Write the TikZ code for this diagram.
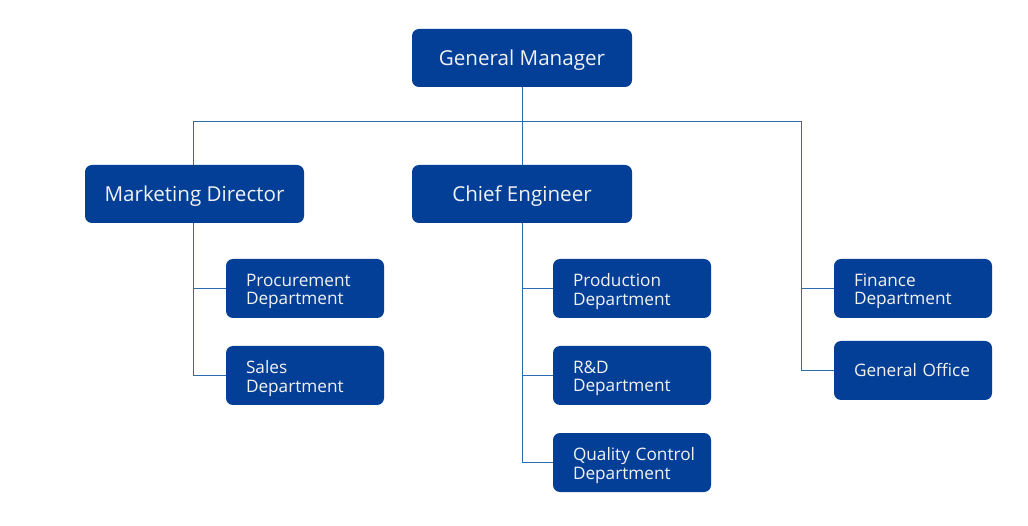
\documentclass[tikz,border=0pt]{standalone}
\usepackage{fontspec}
\setmainfont{Open Sans}
\definecolor{boxblue}{HTML}{033F97}
\definecolor{lineblue}{HTML}{2B6CB0}
\definecolor{txt}{HTML}{F2F2F2}
\begin{document}
\begin{tikzpicture}[x=1pt,y=-1pt,
  bigbox/.style={draw=none,fill=boxblue,rounded corners=7pt,text=txt,
    minimum width=220pt,minimum height=58pt,font=\fontsize{20.6}{24}\selectfont,inner sep=0pt,text depth=0pt},
  smallbox/.style={draw=none,fill=boxblue,rounded corners=7pt,text=txt,
    minimum width=158pt,minimum height=59pt,font=\fontsize{17.2}{18.5}\selectfont,
    text width=118pt,align=left,inner xsep=0pt,inner ysep=0pt},
  twoline/.style={text depth=17pt},
  conn/.style={draw=lineblue,line width=0.9pt}]
\useasboundingbox[fill=white] (0,0) rectangle (1028,526);
\node[bigbox] (gm) at (522,58) {General Manager};
\node[bigbox,minimum width=219pt] (md) at (194.5,194) {Marketing Director};
\node[bigbox] (ce) at (522,194) {Chief Engineer};
\node[smallbox,twoline] (proc) at (305,288.5) {Procurement\\Department};
\node[smallbox,twoline] (sales) at (305,375.5) {Sales\\Department};
\node[smallbox,twoline] (prod) at (632,288.5) {Production\\Department};
\node[smallbox,twoline] (rd) at (632,375.5) {R\&D\\Department};
\node[smallbox,twoline] (qc) at (632,462.5) {\mbox{Quality Control}\\Department};
\node[smallbox,twoline] (fin) at (913,288.5) {Finance\\Department};
\node[smallbox] (go) at (913,370.5) {General Office};
\coordinate (j) at (522,121);
\coordinate (jl) at (193,121);
\coordinate (jr) at (801,121);
\draw[conn] (gm.south) -- (ce.north);
\draw[conn] (jl) -- (jr);
\draw[conn] (jl) -- (jl |- md.north);
% marketing branch
\draw[conn] (193,223) |- (sales.west);
\draw[conn] (193,0 |- proc.west) -- (proc.west);
% chief branch
\draw[conn] (ce.south) |- (qc.west);
\draw[conn] (ce.south |- prod.west) -- (prod.west);
\draw[conn] (ce.south |- rd.west) -- (rd.west);
% right branch
\draw[conn] (jr) |- (go.west);
\draw[conn] (jr |- fin.west) -- (fin.west);
\end{tikzpicture}
\end{document}
